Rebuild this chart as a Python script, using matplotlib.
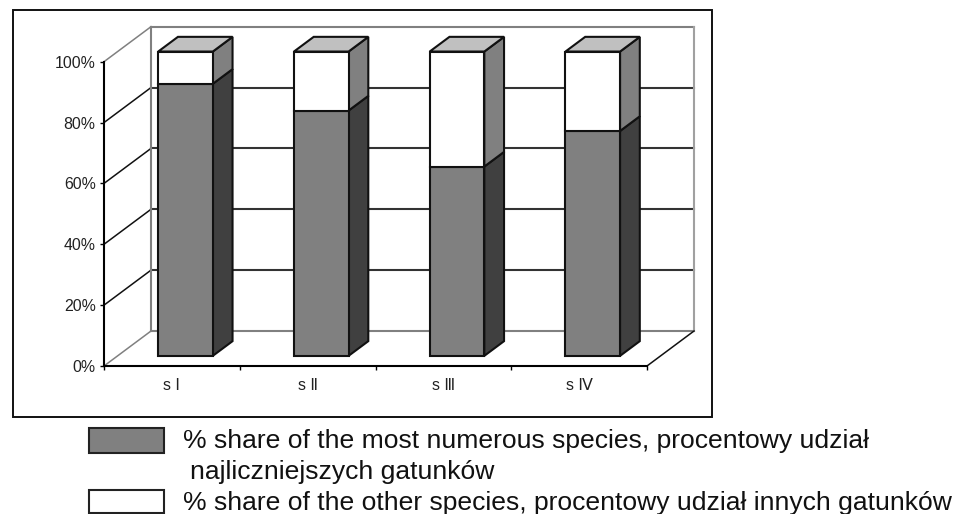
import matplotlib
matplotlib.use('Agg')
import matplotlib.pyplot as plt
from matplotlib.patches import Rectangle

plt.rcParams['font.family'] = ['Liberation Sans', 'DejaVu Sans']

categories = ['s Ⅰ', 's Ⅱ', 's Ⅲ', 's Ⅳ']
most_numerous = [89.4, 80.6, 62.2, 73.9]
other_species = [10.6, 19.4, 37.8, 26.1]
y_ticks = [0, 20, 40, 60, 80, 100]
y_tick_labels = ['0%', '20%', '40%', '60%', '80%', '100%']
legend_line1 = '% share of the most numerous species, procentowy udział'
legend_line2 = 'najliczniejszych gatunków'
legend_line3 = '% share of the other species, procentowy udział innych gatunków'

W, H = 964, 514
AX_L, AX_R, AX_B, AX_T = 104, 647, 366, 61.7
px_x = (AX_R - AX_L) / len(categories)  # pixels per category
px_y = (AX_B - AX_T) / 100  # pixels per percent
depth_x = 47 / px_x  # wall depth in data units
depth_y = 35 / px_y
bar_w = 54.6 / px_x
bar_from = 0.29  # where the bar starts and ends inside the depth
bar_to = 0.71

fig = plt.figure(figsize=(W / 100, H / 100), dpi=100)

# overlay in pixels for the frame and the legend
bg = fig.add_axes([0, 0, 1, 1])
bg.set_xlim(0, W)
bg.set_ylim(H, 0)
bg.axis('off')
bg.add_patch(Rectangle((13, 9.5), 698.5, 407, fc='white', ec='#111111', lw=1.4))
bg.add_patch(Rectangle((89, 428), 75, 24.5, fc='#808080', ec='#222222', lw=1.5))
bg.add_patch(Rectangle((89, 489.5), 75, 23, fc='white', ec='#222222', lw=1.5))
bg.text(183, 441, legend_line1, fontsize=19.05, va='center', color='#111111')
bg.text(190, 472, legend_line2, fontsize=19.05, va='center', color='#111111')
bg.text(183, 503, legend_line3, fontsize=19.05, va='center', color='#111111')

ax = fig.add_axes([AX_L / W, 1 - AX_B / H, (AX_R - AX_L) / W, (AX_B - AX_T) / H])
ax.patch.set_alpha(0)
ax.set_xlim(0, len(categories))
ax.set_ylim(0, 100)
for s in ['top', 'right']:
    ax.spines[s].set_visible(False)
ax.spines['left'].set_linewidth(1.5)
ax.spines['bottom'].set_linewidth(1.5)
ax.spines['left'].set_zorder(6)
ax.spines['bottom'].set_zorder(6)
ax.set_yticks(y_ticks, y_tick_labels, fontsize=11.4, color='#222222')
ax.set_xticks(range(len(categories) + 1), [''] * (len(categories) + 1))
ax.tick_params(axis='both', length=3, width=1, pad=3)
for i, c in enumerate(categories):
    ax.annotate(c, (i + 0.5, 0), xytext=(0, -20), textcoords='offset pixels', ha='center',
                va='center', fontsize=11.4, color='#222222', annotation_clip=False)

# walls and gridlines
n = len(categories)
for t in y_ticks:
    col = '#808080' if t in (0, 100) else '#111111'
    col2 = '#808080' if t in (0, 100) else '#333333'
    ax.plot([0, depth_x], [t, t + depth_y], color=col, lw=1.1, clip_on=False, zorder=1)
    ax.plot([depth_x, n + depth_x], [t + depth_y, t + depth_y], color=col2, lw=1.5, clip_on=False, zorder=1)
ax.plot([depth_x, depth_x], [depth_y, 100 + depth_y], color='#808080', lw=1.5, clip_on=False, zorder=1)
ax.plot([n + depth_x, n + depth_x], [depth_y, 100 + depth_y], color='#a0a0a0', lw=1.5, clip_on=False, zorder=1)
ax.plot([n, n + depth_x], [0, depth_y], color='#111111', lw=1.1, clip_on=False, zorder=1)

# bars
off_x = depth_x * bar_from
off_y = depth_y * bar_from
side_x = depth_x * (bar_to - bar_from)
side_y = depth_y * (bar_to - bar_from)
edge = dict(edgecolor='#111111', linewidth=1.5, clip_on=False, zorder=3)
for i in range(n):
    x0 = i + 0.5 - bar_w / 2 + off_x
    x1 = x0 + bar_w
    low = most_numerous[i] + off_y
    top = most_numerous[i] + other_species[i] + off_y
    ax.fill([x1, x1 + side_x, x1 + side_x, x1], [off_y, off_y + side_y, low + side_y, low], facecolor='#404040', **edge)
    ax.fill([x1, x1 + side_x, x1 + side_x, x1], [low, low + side_y, top + side_y, top], facecolor='#808080', **edge)
    ax.fill([x0, x0 + side_x, x1 + side_x, x1], [top, top + side_y, top + side_y, top], facecolor='#c0c0c0', **edge)
    ax.bar(i + 0.5 + off_x, most_numerous[i], bar_w, bottom=off_y, color='#808080', **edge)
    ax.bar(i + 0.5 + off_x, other_species[i], bar_w, bottom=low, color='white', **edge)

fig.savefig('out.png', dpi=100)
